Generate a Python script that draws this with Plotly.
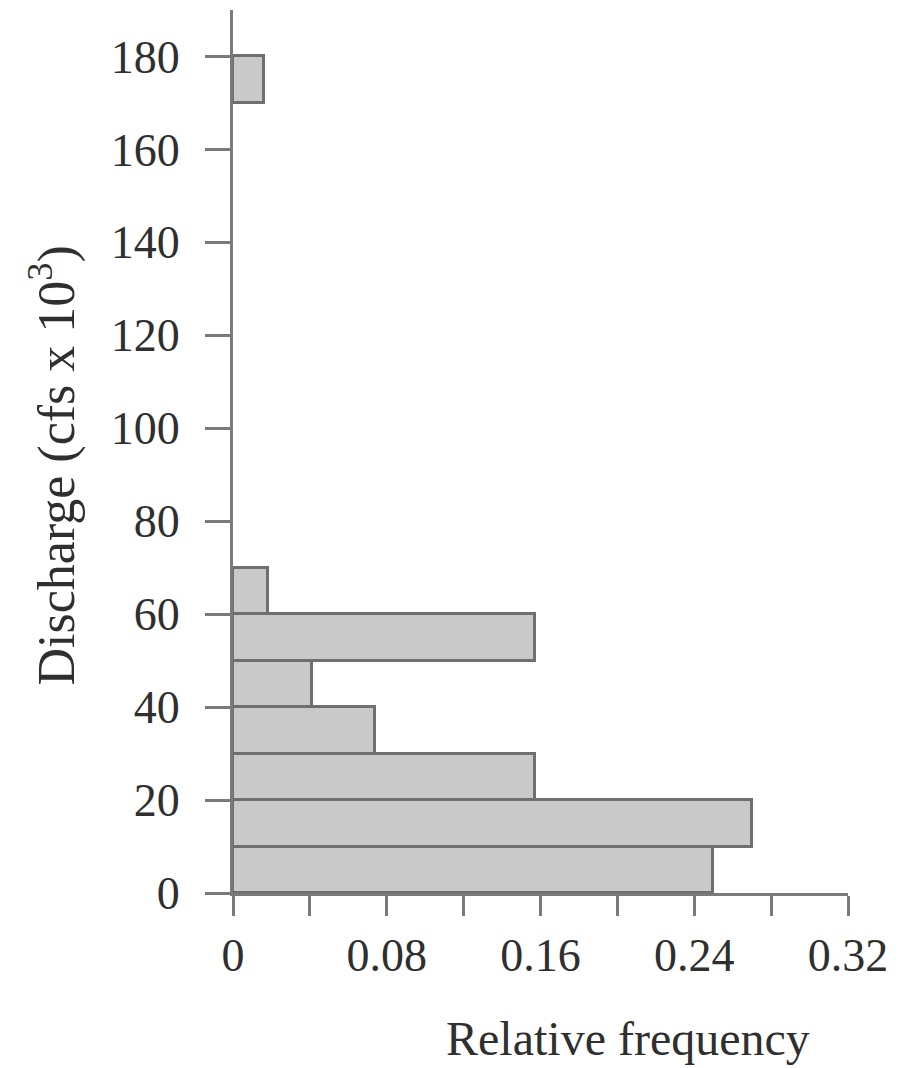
import plotly.graph_objects as go

# Data
bin_start = [0, 10, 20, 30, 40, 50, 60, 170]
bin_width = 10
rel_freq = [0.250, 0.270, 0.157, 0.074, 0.041, 0.157, 0.018, 0.016]
x_tick_vals = [0, 0.08, 0.16, 0.24, 0.32]
x_tick_text = ["0", "0.08", "0.16", "0.24", "0.32"]
y_tick_vals = [0, 20, 40, 60, 80, 100, 120, 140, 160, 180]
x_title = "Relative frequency"
y_title = "Discharge (cfs x 10<sup>3</sup>)"

centers = [b + bin_width / 2 for b in bin_start]

fig = go.Figure(go.Bar(
    x=rel_freq,
    y=centers,
    width=[bin_width] * len(bin_start),
    orientation="h",
    marker=dict(color="#c9c9c9", line=dict(color="#6f6f6f", width=3)),
    hoverinfo="x+y",
))

axis_color = "#7a7a7a"
font_family = "Liberation Serif"
text_color = "#2f2f2f"

fig.update_layout(
    width=906,
    height=1060,
    margin=dict(l=225, r=66, t=2, b=175),
    paper_bgcolor="white",
    plot_bgcolor="white",
    showlegend=False,
    font=dict(family=font_family, size=46, color=text_color),
    bargap=0,
)

fig.update_xaxes(
    range=[0, 0.32],
    automargin=False,
    tickvals=x_tick_vals,
    ticktext=x_tick_text,
    ticks="outside",
    ticklen=20,
    tickwidth=3,
    tickcolor=axis_color,
    minor=dict(dtick=0.04, tick0=0, ticks="outside", ticklen=20, tickwidth=3, tickcolor=axis_color),
    showline=True,
    linecolor=axis_color,
    linewidth=3,
    showgrid=False,
    zeroline=False,
    ticklabelstandoff=0,
    tickfont=dict(size=46, family=font_family, color=text_color),
)

fig.update_yaxes(
    range=[0, 190],
    automargin=False,
    tickvals=y_tick_vals,
    ticks="outside",
    ticklen=25,
    tickwidth=3,
    tickcolor=axis_color,
    showline=True,
    linecolor=axis_color,
    linewidth=3,
    showgrid=False,
    zeroline=False,
    ticklabelstandoff=16,
    tickfont=dict(size=46, family=font_family, color=text_color),
)

fig.add_annotation(
    text=x_title, xref="paper", yref="paper",
    x=0.643, y=0, xanchor="center", yanchor="middle", yshift=-145,
    showarrow=False, font=dict(size=48, family=font_family, color=text_color),
)
fig.add_annotation(
    text=y_title, xref="paper", yref="paper",
    x=0, y=0.5, xanchor="center", yanchor="middle", xshift=-180, yshift=-14,
    textangle=-90,
    showarrow=False, font=dict(size=52, family=font_family, color=text_color),
)

fig.write_html("out.html")
